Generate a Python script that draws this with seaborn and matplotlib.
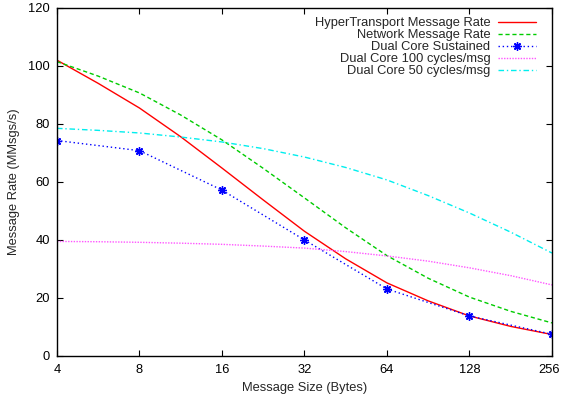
import matplotlib
matplotlib.use("Agg")
import matplotlib.pyplot as plt
import matplotlib.transforms as mtransforms
import numpy as np
import pandas as pd
import seaborn as sns

# message sizes (bytes); smooth curves were read at powers of two and the geometric midpoints
sizes_fine = [4, 5.657, 8, 11.31, 16, 22.63, 32, 45.25, 64, 90.51, 128, 181.0, 256]
hyper_rate = [102.0, 94.0, 85.5, 75.6, 64.8, 53.8, 43.0, 33.5, 25.2, 19.0, 13.8, 10.2, 7.4]
network_rate = [101.5, 96.5, 90.7, 83.1, 74.5, 64.7, 54.5, 44.2, 34.6, 26.8, 20.3, 15.4, 11.4]
dual_100 = [39.5, 39.4, 39.2, 38.9, 38.5, 37.9, 37.2, 36.0, 34.5, 32.7, 30.4, 27.7, 24.5]
dual_50 = [78.5, 77.8, 76.9, 75.5, 73.8, 71.5, 68.6, 65.0, 60.7, 55.3, 49.3, 42.7, 35.5]

sizes = [4, 8, 16, 32, 64, 128, 256]
dual_sustained = [74.3, 70.8, 57.2, 40.0, 23.1, 13.8, 7.5]

FS = 9.3

sns.set_theme(style="white")
plt.rcParams['font.family'] = ['Liberation Sans', 'DejaVu Sans']

fig = plt.figure(figsize=(5.61, 3.99), dpi=100)
ax = fig.add_axes([0.1016, 0.1078, 0.8823, 0.8722])

fine = pd.DataFrame({"size": sizes_fine, "hyper": hyper_rate, "net": network_rate,
                     "d100": dual_100, "d50": dual_50})
pts = pd.DataFrame({"size": sizes, "sust": dual_sustained})

sns.lineplot(data=fine, x="size", y="hyper", ax=ax, color="#ff0000", lw=1.0,
             label="HyperTransport Message Rate")
sns.lineplot(data=fine, x="size", y="net", ax=ax, color="#00cc00", lw=1.0,
             linestyle=(0, (3, 2)), label="Network Message Rate")
sns.lineplot(data=pts, x="size", y="sust", ax=ax, color="#0000ff", lw=1.0,
             linestyle=(0, (1, 2)), marker=(8, 2, 0), markersize=6, markeredgewidth=1.0,
             markeredgecolor="#0000ff", label="Dual Core Sustained")
sns.lineplot(data=fine, x="size", y="d100", ax=ax, color="#ff55ff", lw=1.0,
             linestyle=(0, (1, 1)), label="Dual Core 100 cycles/msg")
sns.lineplot(data=fine, x="size", y="d50", ax=ax, color="#00eeee", lw=1.0,
             linestyle=(0, (4, 2, 1, 2)), label="Dual Core 50 cycles/msg")

ax.set_xscale("log", base=2)
ax.set_xlim(4, 256)
ax.set_ylim(0, 120)
ax.set_xticks(sizes)
ax.set_xticklabels([str(s) for s in sizes])
ax.minorticks_off()
ax.set_yticks(range(0, 121, 20))
ax.set_xlabel("Message Size (Bytes)", fontsize=FS, labelpad=4)
ax.set_ylabel("Message Rate (MMsgs/s)", fontsize=FS, labelpad=6)

for sp in ax.spines.values():
    sp.set_color("black")
    sp.set_linewidth(1.0)
ax.tick_params(direction="in", length=4, width=0.8, top=True, right=True,
               bottom=True, left=True, labelsize=FS, colors="black", pad=5)
ax.tick_params(axis="x", pad=6)

# nudge the last x label so it stays inside the canvas
last = ax.get_xticklabels()[-1]
last.set_transform(last.get_transform() + mtransforms.ScaledTranslation(-3 / 100, 0, fig.dpi_scale_trans))

ax.legend(loc="upper right", frameon=False, markerfirst=False, fontsize=FS,
          handlelength=2.9, handletextpad=0.6, labelspacing=0.0,
          borderaxespad=0.3, bbox_to_anchor=(0.985, 1.0))

fig.savefig("out.png", dpi=100)
